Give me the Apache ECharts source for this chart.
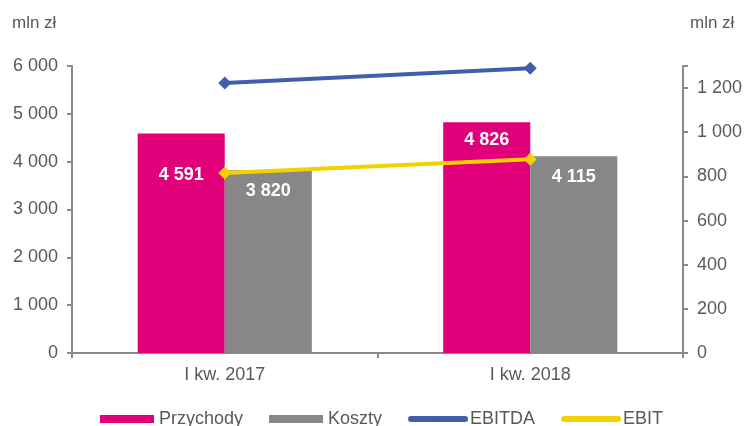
<!DOCTYPE html>
<html>
<head>
<meta charset="utf-8">
<script src="https://cdn.jsdelivr.net/npm/echarts@6/dist/echarts.min.js"></script>
<style>
  html, body { margin: 0; padding: 0; background: #fff; }
  #chart { width: 747px; height: 426px; }
</style>
</head>
<body>
<div id="chart"></div>
<script>
const categories = ['I kw. 2017', 'I kw. 2018'];
const przychody = [4591, 4826];
const koszty = [3820, 4115];
const ebitda = [1223, 1290];
const ebit = [815, 878];

// liczby ze spacją jako separatorem tysięcy
function fmt(v) {
  return String(v).replace(/\B(?=(\d{3})+(?!\d))/g, ' ');
}

const axisGrey = '#8a8a8a';
const textGrey = '#595959';
const font = 'Liberation Sans';

let myChart = echarts.init(document.getElementById('chart'));
let option = {
  animation: false,
  textStyle: { fontFamily: font },
  title: [
    { text: 'mln zł', left: 7, top: 10, textStyle: { fontSize: 17, fontWeight: 'normal', color: textGrey, fontFamily: font } },
    { text: 'mln zł', left: 685, top: 10, textStyle: { fontSize: 17, fontWeight: 'normal', color: textGrey, fontFamily: font } }
  ],
  grid: { left: 72, right: 64, top: 66, bottom: 73 },
  legend: {
    left: 95,
    top: 405,
    itemWidth: 54,
    itemHeight: 8,
    itemGap: 26,
    lineStyle: { width: 6, cap: 'round' },
    textStyle: { fontSize: 18, color: textGrey, fontFamily: font },
    data: [
      { name: 'Przychody', icon: 'rect' },
      { name: 'Koszty', icon: 'rect' },
      'EBITDA',
      'EBIT'
    ]
  },
  xAxis: {
    type: 'category',
    data: categories,
    axisLine: { lineStyle: { color: axisGrey, width: 2 } },
    axisTick: { show: true, length: 5, lineStyle: { color: axisGrey, width: 2 } },
    axisLabel: { fontSize: 18, color: textGrey, margin: 13, fontFamily: font }
  },
  yAxis: [
    {
      type: 'value',
      min: 0,
      max: 6000,
      interval: 1000,
      splitLine: { show: false },
      axisLine: { show: true, lineStyle: { color: axisGrey, width: 2 } },
      axisTick: { show: true, length: 5, lineStyle: { color: axisGrey, width: 2 } },
      axisLabel: { fontSize: 18, color: textGrey, margin: 14, fontFamily: font, formatter: fmt }
    },
    {
      type: 'value',
      min: 0,
      max: 1300,
      interval: 200,
      splitLine: { show: false },
      axisLine: { show: true, lineStyle: { color: axisGrey, width: 2 } },
      axisTick: { show: true, length: 5, lineStyle: { color: axisGrey, width: 2 } },
      axisLabel: {
        fontSize: 18, color: textGrey, margin: 14, fontFamily: font,
        formatter: function (v) { return v > 1200 ? '' : fmt(v); }
      }
    }
  ],
  series: [
    {
      name: 'Przychody',
      type: 'bar',
      barGap: '0%',
      barCategoryGap: '43%',
      itemStyle: { color: '#E2007A' },
      label: {
        show: true, position: 'insideTop', distance: 9,
        color: '#fff', fontWeight: 'bold', fontSize: 18, fontFamily: font,
        formatter: function (p) { return fmt(p.value); }
      },
      data: przychody.map((v, i) => i === 0 ? { value: v, label: { offset: [0, 24] } } : v)
    },
    {
      name: 'Koszty',
      type: 'bar',
      itemStyle: { color: '#878787' },
      label: {
        show: true, position: 'insideTop', distance: 12,
        color: '#fff', fontWeight: 'bold', fontSize: 18, fontFamily: font,
        formatter: function (p) { return fmt(p.value); }
      },
      data: koszty
    },
    {
      name: 'EBITDA',
      type: 'line',
      yAxisIndex: 1,
      symbol: 'diamond',
      symbolSize: 13,
      lineStyle: { color: '#3F5FAA', width: 4 },
      itemStyle: { color: '#3F5FAA' },
      data: ebitda
    },
    {
      name: 'EBIT',
      type: 'line',
      yAxisIndex: 1,
      symbol: 'diamond',
      symbolSize: 13,
      lineStyle: { color: '#F5D000', width: 4 },
      itemStyle: { color: '#F5D000' },
      data: ebit
    }
  ]
};
myChart.setOption(option);
</script>
</body>
</html>
